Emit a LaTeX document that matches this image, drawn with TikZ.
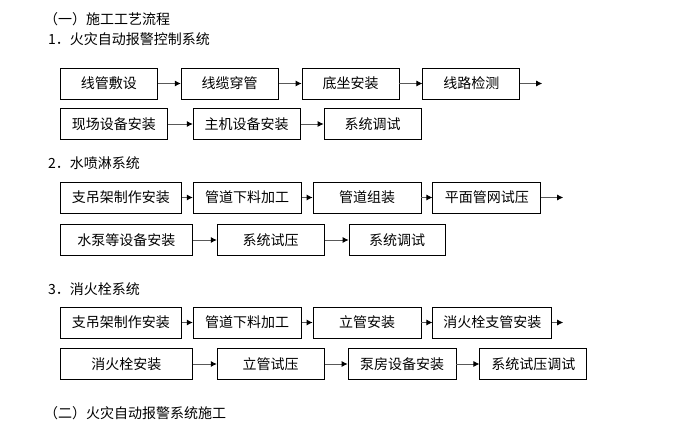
\documentclass[tikz,border=0pt]{standalone}
\usepackage{fontspec}
\setmainfont{Noto Sans CJK SC}
\usetikzlibrary{positioning, arrows.meta}
\tikzset{
        x=1pt, y=1pt,
        every node/.style={font=\fontsize{14}{16}\selectfont},
        stepbox/.style={draw, line width=0.8pt, minimum height=31pt, inner sep=0pt},
        flow/.style={draw=gray!70!black, line width=0.8pt, -{Latex[length=6pt,width=6pt,black]}},
        heading/.style={anchor=west, inner sep=0pt}
        }
\begin{document}
\begin{tikzpicture}
        \useasboundingbox (0,0) rectangle (696,-427);
        % headings
        \node[heading](h0) at (44,-19){（一）施工工艺流程};
        \node[heading](h1) at (48,-39){1．火灾自动报警控制系统};
        \node[heading](h2) at (48,-163){2．水喷淋系统};
        \node[heading](h3) at (48,-289){3．消火栓系统};
        \node[heading](h4) at (44,-413){（二）火灾自动报警系统施工};
        % 1. alarm control
        \node[stepbox, minimum width=97pt, anchor=west](a1) at (60,-83.5){线管敷设};
        \node[stepbox, minimum width=97pt, right=23pt of a1](a2){线缆穿管};
        \node[stepbox, minimum width=97pt, right=23pt of a2](a3){底坐安装};
        \node[stepbox, minimum width=97pt, right=23pt of a3](a4){线路检测};
        \coordinate[right=22pt of a4](a5);
        \node[stepbox, minimum width=107pt, anchor=west](b1) at (60,-124){现场设备安装};
        \node[stepbox, minimum width=107pt, right=25pt of b1](b2){主机设备安装};
        \node[stepbox, minimum width=97pt, right=23pt of b2](b3){系统调试};
        % 2. sprinkler
        \node[stepbox, minimum width=121pt, anchor=west](c1) at (60,-197.5){支吊架制作安装};
        \node[stepbox, minimum width=108pt, right=11pt of c1](c2){管道下料加工};
        \node[stepbox, minimum width=108pt, right=11pt of c2](c3){管道组装};
        \node[stepbox, minimum width=108pt, right=11pt of c3](c4){平面管网试压};
        \coordinate[right=22pt of c4](c5);
        \node[stepbox, minimum width=132pt, anchor=west](d1) at (60,-240){水泵等设备安装};
        \node[stepbox, minimum width=107pt, right=24pt of d1](d2){系统试压};
        \node[stepbox, minimum width=96pt, right=24pt of d2](d3){系统调试};
        % 3. hydrant
        \node[stepbox, minimum width=121pt, anchor=west](e1) at (60,-322.5){支吊架制作安装};
        \node[stepbox, minimum width=108pt, right=11pt of e1](e2){管道下料加工};
        \node[stepbox, minimum width=108pt, right=11pt of e2](e3){立管安装};
        \node[stepbox, minimum width=119pt, right=11pt of e3](e4){消火栓支管安装};
        \coordinate[right=11pt of e4](e5);
        \node[stepbox, minimum width=132pt, anchor=west](g1) at (60,-364){消火栓安装};
        \node[stepbox, minimum width=107pt, right=24pt of g1](g2){立管试压};
        \node[stepbox, minimum width=108pt, right=23pt of g2](g3){泵房设备安装};
        \node[stepbox, minimum width=107pt, right=23pt of g3](g4){系统试压调试};
        % connectors
        \foreach \r/\n in {a/5, b/3, c/5, d/3, e/5, g/4}{
          \foreach \i [evaluate=\i as \j using int(\i+1)] in {1,...,\numexpr\n-1\relax}{
            \draw[flow] (\r\i) -- (\r\j);
          }
        }
\end{tikzpicture}
\end{document}
